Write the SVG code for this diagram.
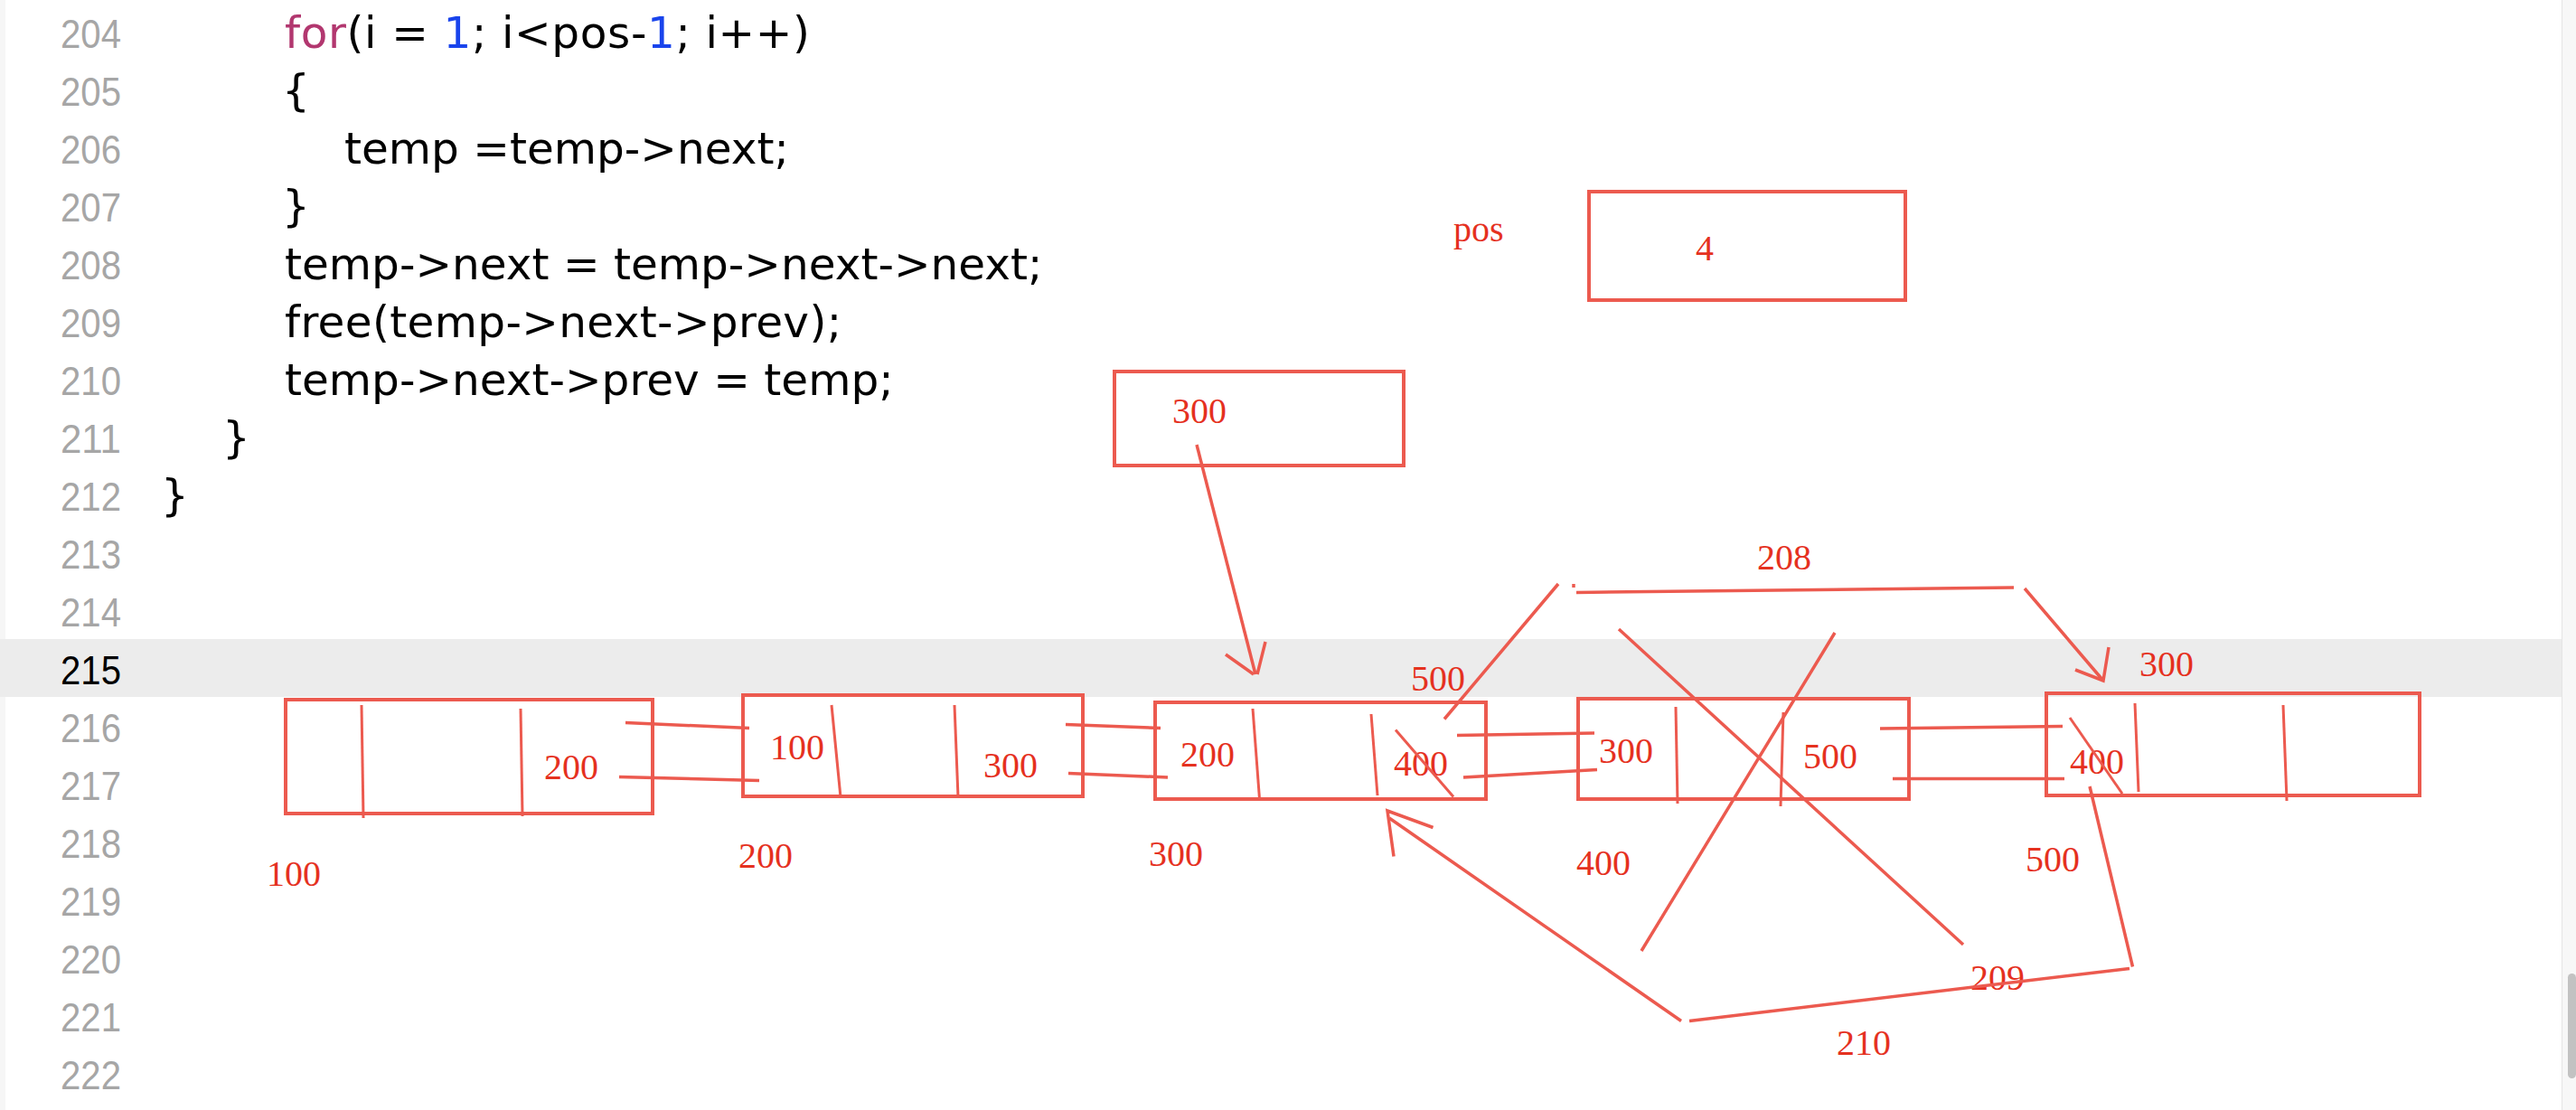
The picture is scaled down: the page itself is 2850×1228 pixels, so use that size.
<svg xmlns="http://www.w3.org/2000/svg" width="2850" height="1228" viewBox="0 0 2850 1228">
<style>
.ln{font-family:"Liberation Sans",Arial,sans-serif;font-size:44px;fill:#a6a6a6;text-anchor:end}
.code{font-family:"DejaVu Sans",Verdana,sans-serif;font-size:48.5px;fill:#000}
.kw{fill:#b2376f}
.num{fill:#1944ec}
.box{fill:none;stroke:#ec5a4f;stroke-width:4}
.ln2{fill:none;stroke:#ec5a4f;stroke-width:3.5;stroke-linecap:butt}
.dv{fill:none;stroke:#ec5a4f;stroke-width:3}
.lbl{font-family:"Liberation Serif","Times New Roman",serif;font-size:40px;fill:#e5311f}
</style>
<rect x="0" y="0" width="2850" height="1228" fill="#ffffff"/>
<rect x="0" y="0" width="6" height="1228" fill="#f6f6f6"/>
<rect x="0" y="707" width="2834" height="64" fill="#ececec"/>
<rect x="2834" y="0" width="16" height="1228" fill="#f7f7f7"/>
<line x1="2834.5" y1="0" x2="2834.5" y2="1228" stroke="#e4e4e4" stroke-width="1"/>
<rect x="2841" y="1077" width="9" height="116" rx="4.5" fill="#c2c2c2"/>

<g id="line-numbers">
<text class="ln" x="134" y="53" textLength="67" lengthAdjust="spacingAndGlyphs">204</text>
<text class="ln" x="134" y="117" textLength="67" lengthAdjust="spacingAndGlyphs">205</text>
<text class="ln" x="134" y="181" textLength="67" lengthAdjust="spacingAndGlyphs">206</text>
<text class="ln" x="134" y="245" textLength="67" lengthAdjust="spacingAndGlyphs">207</text>
<text class="ln" x="134" y="309" textLength="67" lengthAdjust="spacingAndGlyphs">208</text>
<text class="ln" x="134" y="373" textLength="67" lengthAdjust="spacingAndGlyphs">209</text>
<text class="ln" x="134" y="437" textLength="67" lengthAdjust="spacingAndGlyphs">210</text>
<text class="ln" x="134" y="501" textLength="67" lengthAdjust="spacingAndGlyphs">211</text>
<text class="ln" x="134" y="565" textLength="67" lengthAdjust="spacingAndGlyphs">212</text>
<text class="ln" x="134" y="629" textLength="67" lengthAdjust="spacingAndGlyphs">213</text>
<text class="ln" x="134" y="693" textLength="67" lengthAdjust="spacingAndGlyphs">214</text>
<text class="ln" x="134" y="757" textLength="67" lengthAdjust="spacingAndGlyphs" style="fill:#000">215</text>
<text class="ln" x="134" y="821" textLength="67" lengthAdjust="spacingAndGlyphs">216</text>
<text class="ln" x="134" y="885" textLength="67" lengthAdjust="spacingAndGlyphs">217</text>
<text class="ln" x="134" y="949" textLength="67" lengthAdjust="spacingAndGlyphs">218</text>
<text class="ln" x="134" y="1013" textLength="67" lengthAdjust="spacingAndGlyphs">219</text>
<text class="ln" x="134" y="1077" textLength="67" lengthAdjust="spacingAndGlyphs">220</text>
<text class="ln" x="134" y="1141" textLength="67" lengthAdjust="spacingAndGlyphs">221</text>
<text class="ln" x="134" y="1205" textLength="67" lengthAdjust="spacingAndGlyphs">222</text>
</g>

<g id="code">
<text class="code" x="315" y="53" textLength="581" lengthAdjust="spacing"><tspan class="kw">for</tspan>(i = <tspan class="num">1</tspan>; i&lt;pos-<tspan class="num">1</tspan>; i++)</text>
<text class="code" x="312" y="117">{</text>
<text class="code" x="381" y="181">temp =temp-&gt;next;</text>
<text class="code" x="312" y="245">}</text>
<text class="code" x="315" y="309">temp-&gt;next = temp-&gt;next-&gt;next;</text>
<text class="code" x="315" y="373" textLength="616" lengthAdjust="spacing">free(temp-&gt;next-&gt;prev);</text>
<text class="code" x="315" y="437">temp-&gt;next-&gt;prev = temp;</text>
<text class="code" x="246" y="501">}</text>
<text class="code" x="178" y="565">}</text>
</g>

<g id="node-pos">
<text class="lbl" x="1608" y="267">pos</text>
<rect class="box" x="1758" y="212" width="350" height="120"/>
<text class="lbl" x="1876" y="288">4</text>
</g>

<g id="node-temp">
<rect class="box" x="1233" y="411" width="320" height="104"/>
<text class="lbl" x="1297" y="468">300</text>
</g>

<g id="node-100">
<rect class="box" x="316" y="774" width="406" height="126"/>
<line class="dv" x1="400" y1="780" x2="402" y2="905"/>
<line class="dv" x1="576" y1="784" x2="578" y2="903"/>
<text class="lbl" x="602" y="862">200</text>
<text class="lbl" x="295" y="980">100</text>
</g>

<g id="node-200">
<rect class="box" x="822" y="769" width="376" height="112"/>
<line class="dv" x1="920" y1="780" x2="930" y2="882"/>
<line class="dv" x1="1056" y1="780" x2="1060" y2="882"/>
<text class="lbl" x="852" y="840">100</text>
<text class="lbl" x="1088" y="860">300</text>
<text class="lbl" x="817" y="960">200</text>
</g>

<g id="node-300">
<rect class="box" x="1278" y="777" width="366" height="107"/>
<line class="dv" x1="1386" y1="784" x2="1393.5" y2="884"/>
<line class="dv" x1="1517" y1="790" x2="1524" y2="880"/>
<text class="lbl" x="1306" y="848">200</text>
<text class="lbl" x="1542" y="858">400</text>
<line class="dv" x1="1544" y1="807.5" x2="1608" y2="881.5"/>
<text class="lbl" x="1561" y="764">500</text>
<text class="lbl" x="1271" y="958">300</text>
</g>

<g id="node-400">
<rect class="box" x="1746" y="773" width="366" height="111"/>
<line class="dv" x1="1854" y1="782" x2="1856" y2="889"/>
<line class="dv" x1="1973" y1="788" x2="1970" y2="892"/>
<text class="lbl" x="1769" y="844">300</text>
<text class="lbl" x="1995" y="850">500</text>
<text class="lbl" x="1744" y="968">400</text>
</g>

<g id="node-500">
<rect class="box" x="2264" y="767" width="413" height="113"/>
<line class="dv" x1="2362" y1="778" x2="2366" y2="876"/>
<line class="dv" x1="2526" y1="780" x2="2530" y2="886"/>
<text class="lbl" x="2290" y="856">400</text>
<line class="dv" x1="2290" y1="794" x2="2348" y2="878"/>
<text class="lbl" x="2367" y="748">300</text>
<text class="lbl" x="2241" y="964">500</text>
</g>

<g id="connectors">
<line class="ln2" x1="692" y1="799.5" x2="829" y2="805.5"/>
<line class="ln2" x1="685" y1="859.5" x2="840" y2="863.5"/>
<line class="ln2" x1="1179" y1="801.5" x2="1284" y2="805.5"/>
<line class="ln2" x1="1182" y1="855.5" x2="1292" y2="860"/>
<line class="ln2" x1="1612" y1="813.5" x2="1764" y2="811"/>
<line class="ln2" x1="1619" y1="860" x2="1767" y2="851.5"/>
<line class="ln2" x1="2080" y1="806" x2="2282" y2="803.5"/>
<line class="ln2" x1="2094" y1="861.5" x2="2284" y2="861.5"/>
<line class="ln2" x1="1324" y1="492" x2="1389" y2="746"/>
<polyline class="ln2" points="1356,724 1387,746"/>
<polyline class="ln2" points="1400,710 1391,746"/>
<line class="ln2" x1="1598" y1="795.5" x2="1724" y2="646"/>
<line class="ln2" x1="1741" y1="646" x2="1741" y2="650"/>
<line class="ln2" x1="1744" y1="655.5" x2="2228" y2="650"/>
<text class="lbl" x="1944" y="630">208</text>
<line class="ln2" x1="2240" y1="651" x2="2327" y2="753"/>
<polyline class="ln2" points="2296,741 2327,753 2333,716"/>
<line class="ln2" x1="1791" y1="696" x2="2172" y2="1045"/>
<line class="ln2" x1="2030" y1="700" x2="1816" y2="1052"/>
<text class="lbl" x="2180" y="1095">209</text>
<line class="ln2" x1="1860" y1="1129.5" x2="1537" y2="905"/>
<polyline class="ln2" points="1585.5,915.5 1535,897 1542,947.5"/>
<line class="ln2" x1="1869" y1="1129.5" x2="2356" y2="1071.5"/>
<line class="ln2" x1="2359.5" y1="1069.5" x2="2312" y2="870"/>
<text class="lbl" x="2032" y="1167">210</text>
</g>
</svg>
